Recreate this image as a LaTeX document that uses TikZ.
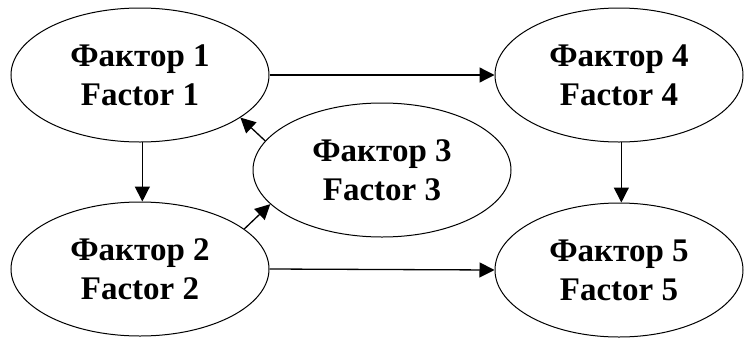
\documentclass[tikz,border=0pt]{standalone}
\usepackage{fontspec}
\setmainfont{Liberation Serif}
\usetikzlibrary{shapes.geometric,arrows.meta}
\begin{document}
\begin{tikzpicture}[x=1pt,y=-1pt,
  factor/.style={draw, ellipse, line width=1pt, minimum width=258pt, minimum height=134pt,
    inner sep=0pt, align=center, font=\fontsize{33}{39}\selectfont\bfseries},
  link/.style={line width=1.3pt, -{Triangle[length=15pt,width=15pt]}}]
  \useasboundingbox (0,0) rectangle (745,338);
  \node[factor] (f1) at (140,75)  {Фактор 1\\Factor 1};
  \node[factor] (f2) at (140,269) {Фактор 2\\Factor 2};
  \node[factor] (f3) at (382,170) {Фактор 3\\Factor 3};
  \node[factor, minimum width=248pt] (f4) at (619,75)  {Фактор 4\\Factor 4};
  \node[factor, minimum width=248pt] (f5) at (619,270) {Фактор 5\\Factor 5};
  \draw[link] (f1.east) -- (f4.west);
  \draw[link] (f2.east) -- (f5.west);
  \draw[link] (f1.-88) -- (f2.88);
  \draw[link] (f4.-88) -- (f5.88);
  \draw[link] (f3.166) -- (f1.-23);
  \draw[link] (f2.21) -- (f3.197);
\end{tikzpicture}
\end{document}
